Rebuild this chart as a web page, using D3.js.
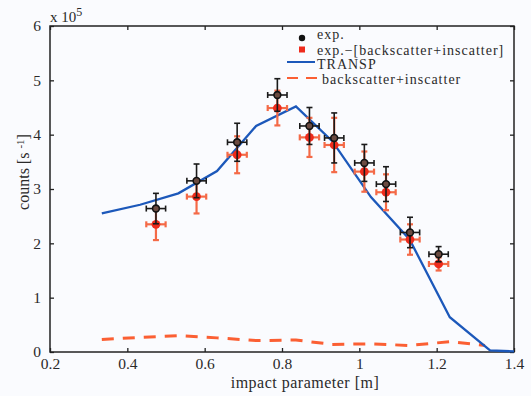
<!DOCTYPE html>
<html>
<head>
<meta charset="utf-8">
<script src="https://cdn.jsdelivr.net/npm/d3@7"></script>
<style>
  body { margin: 0; background: #fafbfe; }
  #chart text { font-family: "Liberation Serif", "DejaVu Serif", serif; fill: #2a2a2a; }
</style>
</head>
<body>
<div id="chart"></div>
<script>
// values in units of 1e5 counts/s
const expX = [0.474, 0.579, 0.684, 0.788, 0.871, 0.935, 1.013, 1.069, 1.131, 1.205];
const expY = [2.64, 3.15, 3.86, 4.73, 4.16, 3.94, 3.48, 3.09, 2.20, 1.80];
const expErr = [0.28, 0.31, 0.35, 0.30, 0.34, 0.46, 0.34, 0.32, 0.28, 0.14];
const corrY = [2.35, 2.86, 3.63, 4.49, 3.95, 3.81, 3.32, 2.94, 2.07, 1.62];
const corrErr = [0.29, 0.31, 0.34, 0.32, 0.36, 0.50, 0.37, 0.33, 0.28, 0.12];
const xErr = 0.025;

const transpX = [0.334, 0.433, 0.532, 0.632, 0.733, 0.836, 0.93, 1.03, 1.13, 1.234, 1.338, 1.40];
const transpY = [2.55, 2.71, 2.92, 3.33, 4.16, 4.52, 3.88, 2.85, 2.07, 0.64, 0.03, 0.01];

const bgX = [0.334, 0.433, 0.532, 0.632, 0.733, 0.836, 0.93, 1.03, 1.13, 1.234, 1.325];
const bgY = [0.23, 0.27, 0.30, 0.26, 0.21, 0.22, 0.14, 0.15, 0.12, 0.19, 0.12];

const xTicks = [0.2, 0.4, 0.6, 0.8, 1, 1.2, 1.4];
const yTicks = [0, 1, 2, 3, 4, 5, 6];

const legendLabels = ["exp.", "exp.\u2212[backscatter+inscatter]", "TRANSP", "backscatter+inscatter"];

const c_blue = '#1c58ba',
	c_dash = '#fb5f33',
	c_red = '#ee2b1c',
	c_redbar = '#f46a47';

const W = 531, H = 396;
const margin = {top: 26, left: 50, right: 17, bottom: 44};
const width = W - margin.left - margin.right,
	height = H - margin.top - margin.bottom;

let svg = d3.select("#chart").append("svg")
	.attr("width", W)
	.attr("height", H);

let g = svg.append("g")
	.attr("transform", "translate(" + margin.left + "," + margin.top + ")");

let x = d3.scaleLinear().domain([0.2, 1.4]).range([0, width]);
let y = d3.scaleLinear().domain([0, 6]).range([height, 0]);

// axes (inward ticks on all four sides)
const fmt = d => d3.format("")(d);
let ax_b = g.append("g").attr("transform", "translate(0," + height + ")")
	.call(d3.axisBottom(x).tickValues(xTicks).tickSize(-4).tickPadding(6).tickFormat(fmt));
let ax_t = g.append("g")
	.call(d3.axisTop(x).tickValues(xTicks).tickSize(-4).tickFormat(""));
let ax_l = g.append("g")
	.call(d3.axisLeft(y).tickValues(yTicks).tickSize(-4).tickPadding(9).tickFormat(fmt));
let ax_r = g.append("g").attr("transform", "translate(" + width + ",0)")
	.call(d3.axisRight(y).tickValues(yTicks).tickSize(-4).tickFormat(""));

g.selectAll(".domain").remove();
g.selectAll(".tick line").attr("stroke", "#222").attr("stroke-width", 1.3);
g.selectAll(".tick text").style("font-size", "15.5px");

g.append("rect")
	.attr("width", width).attr("height", height)
	.attr("fill", "none").attr("stroke", "#222").attr("stroke-width", 1.5);

// x 10^5
let mult = svg.append("text").attr("x", margin.left).attr("y", 22).style("font-size", "15px");
mult.append("tspan").text("x 10");
mult.append("tspan").attr("dy", -6).style("font-size", "12px").text("5");

// axis labels
svg.append("text")
	.attr("x", 305).attr("y", 388)
	.attr("text-anchor", "middle").style("font-size", "16px")
	.style("letter-spacing", "0.5px")
	.text("impact parameter [m]");

let ylab = svg.append("text")
	.attr("transform", "translate(29,172) rotate(-90)")
	.attr("text-anchor", "middle").style("font-size", "16px");
ylab.append("tspan").text("counts [s ");
ylab.append("tspan").attr("dy", -5).style("font-size", "11px").text("-1");
ylab.append("tspan").attr("dy", 5).text("]");

// lines
let line = d3.line().x(d => x(d[0])).y(d => y(d[1]));

g.append("path")
	.datum(d3.zip(bgX, bgY))
	.attr("d", line)
	.attr("fill", "none").attr("stroke", c_dash).attr("stroke-width", 3)
	.attr("stroke-dasharray", "12,9");

g.append("path")
	.datum(d3.zip(transpX, transpY))
	.attr("d", line)
	.attr("fill", "none").attr("stroke", c_blue).attr("stroke-width", 2.3);

// error bar helper
function errbars(sel, ys, errs, color, w) {
	let cap = 3;
	let pts = sel.selectAll("g").data(d3.range(expX.length)).enter().append("g");
	pts.append("line")
		.attr("x1", i => x(expX[i])).attr("x2", i => x(expX[i]))
		.attr("y1", i => y(ys[i] + errs[i])).attr("y2", i => y(ys[i] - errs[i]));
	pts.append("line")
		.attr("x1", i => x(expX[i] - xErr)).attr("x2", i => x(expX[i] + xErr))
		.attr("y1", i => y(ys[i])).attr("y2", i => y(ys[i]));
	// caps
	pts.append("line")
		.attr("x1", i => x(expX[i]) - cap).attr("x2", i => x(expX[i]) + cap)
		.attr("y1", i => y(ys[i] + errs[i])).attr("y2", i => y(ys[i] + errs[i]));
	pts.append("line")
		.attr("x1", i => x(expX[i]) - cap).attr("x2", i => x(expX[i]) + cap)
		.attr("y1", i => y(ys[i] - errs[i])).attr("y2", i => y(ys[i] - errs[i]));
	pts.append("line")
		.attr("x1", i => x(expX[i] - xErr)).attr("x2", i => x(expX[i] - xErr))
		.attr("y1", i => y(ys[i]) - cap).attr("y2", i => y(ys[i]) + cap);
	pts.append("line")
		.attr("x1", i => x(expX[i] + xErr)).attr("x2", i => x(expX[i] + xErr))
		.attr("y1", i => y(ys[i]) - cap).attr("y2", i => y(ys[i]) + cap);
	pts.selectAll("line").attr("stroke", color).attr("stroke-width", w);
	return pts;
}

let corr = errbars(g.append("g").attr("id", "corr"), corrY, corrErr, c_redbar, 2.2);
corr.append("circle")
	.attr("cx", i => x(expX[i])).attr("cy", i => y(corrY[i]))
	.attr("r", 4.4).attr("fill", c_red);

let exp = errbars(g.append("g").attr("id", "exp"), expY, expErr, "#1a1a1a", 1.6);
exp.append("circle")
	.attr("cx", i => x(expX[i])).attr("cy", i => y(expY[i]))
	.attr("r", 3.4).attr("fill", "#6b4a40").attr("stroke", "#111").attr("stroke-width", 1.6);

// legend
let leg = svg.append("g").attr("id", "legend");
const markY = [38, 49.5, 62, 78];
const textY = [39, 54.5, 69, 84];
leg.append("circle").attr("cx", 302).attr("cy", markY[0]).attr("r", 3.2).attr("fill", "#111");
leg.append("rect").attr("x", 299).attr("y", markY[1] - 3).attr("width", 6).attr("height", 6).attr("fill", c_red);
leg.append("line").attr("x1", 287).attr("x2", 315).attr("y1", markY[2]).attr("y2", markY[2])
	.attr("stroke", c_blue).attr("stroke-width", 2);
leg.append("line").attr("x1", 287).attr("x2", 318).attr("y1", markY[3]).attr("y2", markY[3])
	.attr("stroke", c_dash).attr("stroke-width", 2).attr("stroke-dasharray", "11,8");

leg.selectAll("text.lab").data(legendLabels).enter().append("text")
	.attr("class", "lab")
	.attr("x", (d, i) => i == 3 ? 322 : 317)
	.attr("y", (d, i) => textY[i])
	.style("font-size", "14px")
	.style("letter-spacing", "1px")
	.text(d => d);
</script>
</body>
</html>
